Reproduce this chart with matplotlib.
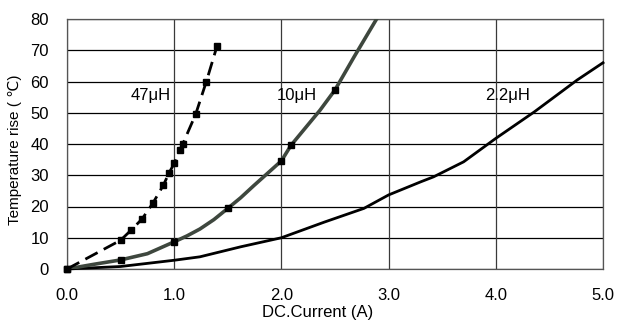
import matplotlib
matplotlib.use("Agg")
import matplotlib.pyplot as plt

plt.rcParams['font.family'] = ['Liberation Sans', 'DejaVu Sans']

# 47uH series (markers)
x47 = [0.0, 0.5, 0.6, 0.7, 0.8, 0.9, 0.95, 1.0, 1.05, 1.08, 1.2, 1.3, 1.4]
y47 = [0.0, 9.2, 12.5, 16.0, 21.0, 26.9, 30.6, 33.8, 38.0, 40.0, 49.5, 60.0, 71.4]

# 10uH series
x10 = [0.0, 0.25, 0.5, 0.75, 1.0, 1.12, 1.24, 1.37, 1.5, 1.62, 1.74, 1.87, 2.0, 2.09, 2.36, 2.5, 2.68, 2.9]
y10 = [0.0, 1.5, 2.9, 4.9, 8.7, 10.6, 12.8, 15.8, 19.4, 22.8, 26.6, 30.6, 34.6, 39.6, 50.8, 57.3, 68.0, 80.7]
x10m = [0.0, 0.5, 1.0, 1.5, 2.0, 2.09, 2.5]
y10m = [0.0, 2.9, 8.7, 19.4, 34.6, 39.6, 57.3]

# 2.2uH series
x22 = [0.0, 0.5, 1.0, 1.24, 1.62, 2.0, 2.4, 2.77, 3.0, 3.3, 3.42, 3.7, 4.0, 4.36, 4.76, 5.0]
y22 = [0.0, 0.8, 2.8, 3.9, 7.1, 10.0, 15.0, 19.4, 23.7, 27.9, 29.5, 34.3, 41.8, 50.3, 60.5, 66.0]

labels = ["47\u03bcH", "10\u03bcH", "2.2\u03bcH"]
label_x = [0.59, 1.96, 3.9]
label_y = [55.4, 55.4, 55.4]

xticks = [0.0, 1.0, 2.0, 3.0, 4.0, 5.0]
yticks = [0, 10, 20, 30, 40, 50, 60, 70, 80]

fig = plt.figure(figsize=(6.19, 3.25), dpi=100)
ax = fig.add_axes([67/619, 1-269/325, (603-67)/619, (269-19)/325])

ax.set_xlim(0, 5)
ax.set_ylim(0, 80)
ax.set_xticks(xticks)
ax.set_yticks(yticks)
ax.set_xticklabels([f"{v:.1f}" for v in xticks])
ax.set_yticklabels([str(v) for v in yticks])
ax.tick_params(length=0, labelsize=12, colors='#000000')
ax.tick_params(axis='y', pad=13)
ax.tick_params(axis='x', pad=14)

for v in yticks:
    ax.axhline(v, color='#000000', lw=0.9, zorder=1)
for v in xticks:
    ax.axvline(v, color='#3a3a3a', lw=0.9, zorder=1)
for s in ax.spines.values():
    s.set_color('#555555')
    s.set_linewidth(0.9)

ax.plot(x22, y22, color='#000000', lw=2.0, zorder=3, clip_on=False)
ax.plot(x10, y10, color='#3e473e', lw=2.6, zorder=3, clip_on=True)
ax.plot(x10m, y10m, ls='none', marker='s', ms=3.8, color='#000000', zorder=4, clip_on=False)
ax.plot(x47, y47, color='#000000', lw=2.0, ls=(0, (5, 2.5)), marker='s', ms=3.8,
        zorder=4, clip_on=False)

for t, lx, ly in zip(labels, label_x, label_y):
    ax.text(lx, ly, t, fontsize=12, ha='left', va='center', zorder=5)

ax.set_xlabel("DC.Current (A)", fontsize=12)
ax.xaxis.set_label_coords((318-67)/(603-67), -(313-269)/(269-19))
ax.xaxis.label.set_va('center')
ax.set_ylabel("Temperature rise ( \u2103)", fontsize=11)
ax.yaxis.set_label_coords(-(67-15)/(603-67), (269-150)/(269-19))
ax.yaxis.label.set_va('center')

fig.savefig("out.png", dpi=100)
